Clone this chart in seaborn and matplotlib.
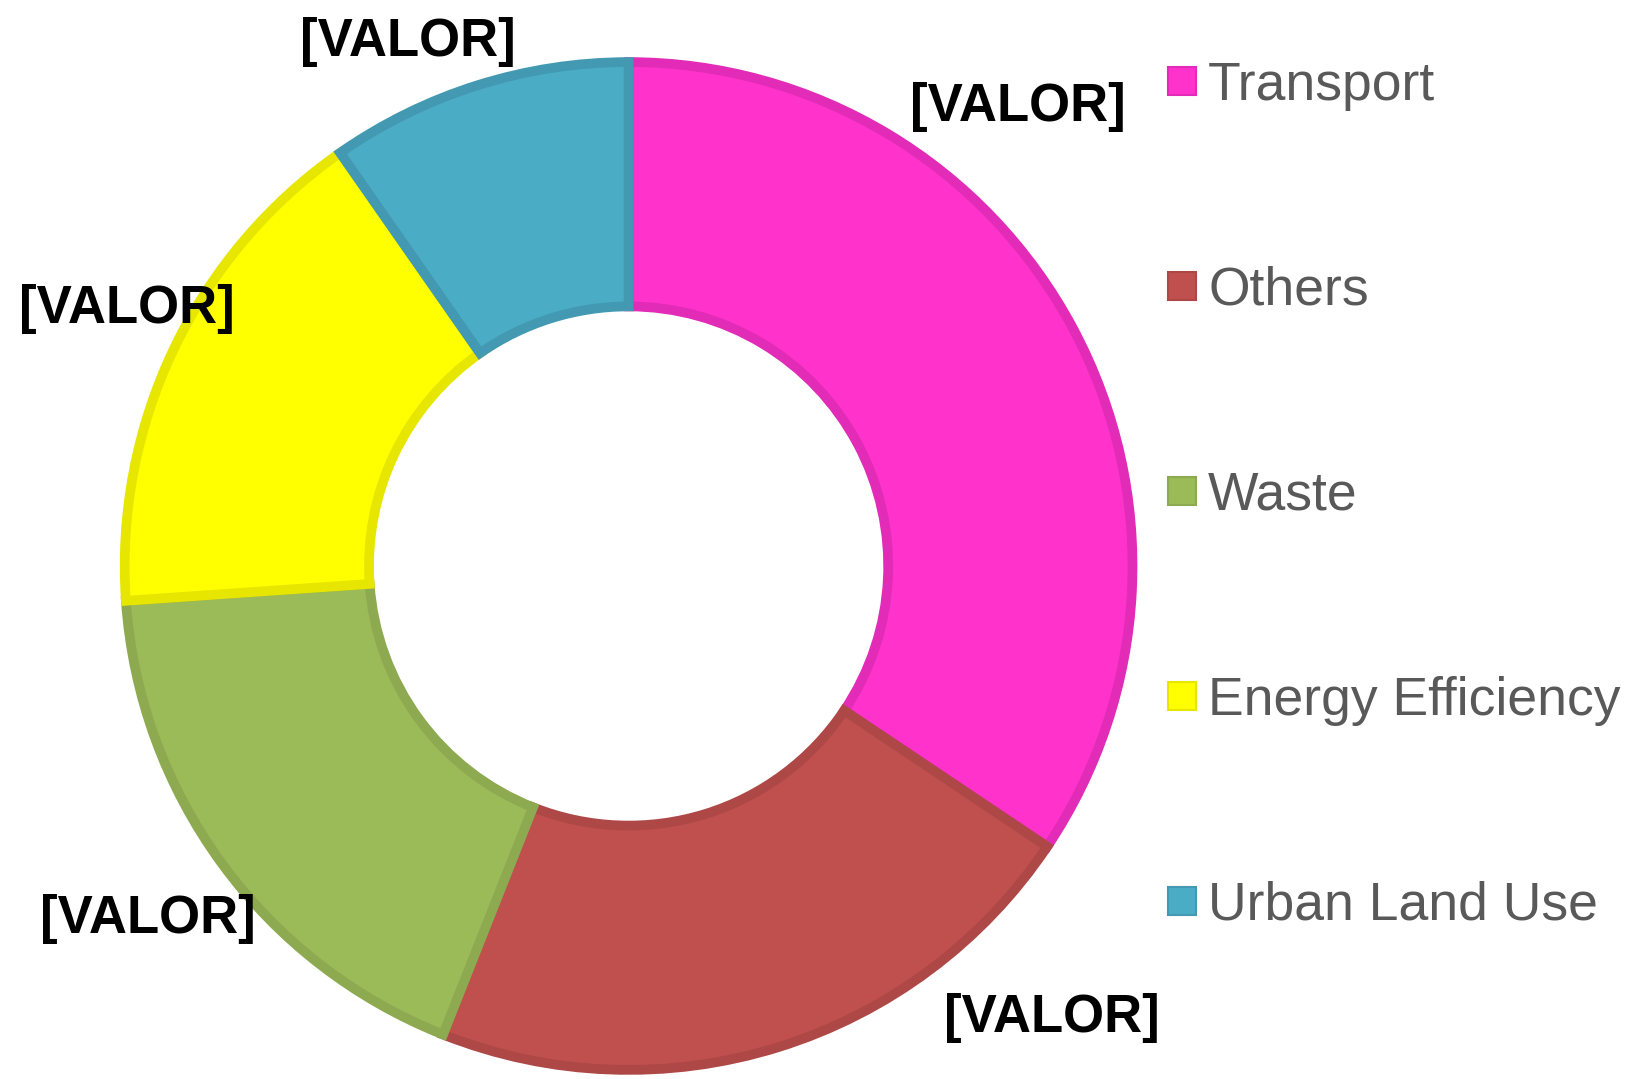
import matplotlib.pyplot as plt
import seaborn as sns
from matplotlib.lines import Line2D

# values (angles of the wedges)
categories = ['Transport', 'Others', 'Waste', 'Energy Efficiency', 'Urban Land Use']
shares = [34.4, 21.6, 17.9, 16.4, 9.7]
colors = ['#FF33CC', '#C0504D', '#9BBB59', '#FFFF00', '#4BACC6']
edge_colors = ['#E22BB6', '#AE4846', '#8DAA50', '#E6E600', '#4399B1']
label_text = '[VALOR]'
# label positions in data units (pie radius = 1)
label_pos = [(0.765, 0.902), (0.832, -0.888), (-0.945, -0.694), (-0.985, 0.504), (-0.433, 1.03)]

sns.set_theme(style='white')
plt.rcParams['font.family'] = ['Liberation Sans', 'DejaVu Sans']

W, H = 1629, 1079
fig = plt.figure(figsize=(W / 100, H / 100), dpi=100)
ax = fig.add_axes([0, 0, 1, 1])

cx, cy, R = 628.6, 566, 509
ax.pie(shares, colors=colors, startangle=90, counterclock=False, radius=0.99,
       wedgeprops=dict(width=0.48, linewidth=7))
for w, ec in zip(ax.patches, edge_colors):
    w.set_edgecolor(ec)

for (x, y) in label_pos:
    ax.text(x, y, label_text, ha='center', va='center', fontsize=38,
            fontweight='bold', color='black')

ax.set_xlim(-cx / R, (W - cx) / R)
ax.set_ylim(-(H - cy) / R, cy / R)
ax.set_aspect('equal')
ax.axis('off')

handles = [Line2D([], [], linestyle='none', marker='s', markersize=20,
                  markerfacecolor=c, markeredgecolor=ec, markeredgewidth=1.5)
           for c, ec in zip(colors, edge_colors)]
leg = fig.legend(handles, categories, loc='center left', bbox_to_anchor=(0.7, 0.5405),
                 frameon=False, fontsize=38.5, labelspacing=2.9, handlelength=0.55,
                 handletextpad=0.22, borderpad=0)
for t in leg.get_texts():
    t.set_color('#595959')

fig.savefig('out.png', dpi=100)
